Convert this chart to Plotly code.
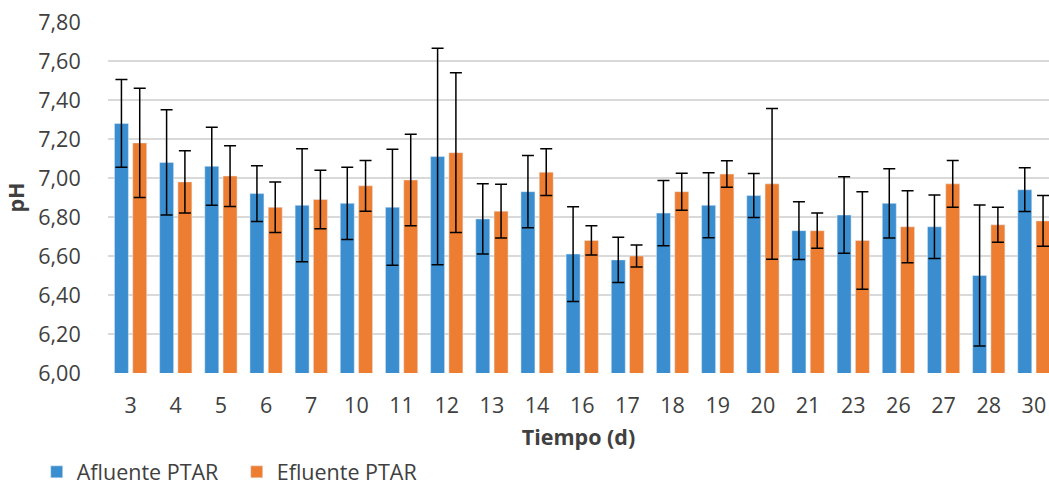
import plotly.graph_objects as go

dias = ["3", "4", "5", "6", "7", "10", "11", "12", "13", "14", "16", "17",
        "18", "19", "20", "21", "23", "26", "27", "28", "30"]

afluente = [7.28, 7.08, 7.06, 6.92, 6.86, 6.87, 6.85, 7.11, 6.79, 6.93, 6.61, 6.58,
            6.82, 6.86, 6.91, 6.73, 6.81, 6.87, 6.75, 6.50, 6.94]
afluente_err = [0.225, 0.27, 0.20, 0.143, 0.29, 0.185, 0.297, 0.555, 0.18, 0.185, 0.243, 0.116,
                0.167, 0.167, 0.113, 0.148, 0.196, 0.178, 0.163, 0.362, 0.112]

efluente = [7.18, 6.98, 7.01, 6.85, 6.89, 6.96, 6.99, 7.13, 6.83, 7.03, 6.68, 6.60,
            6.93, 7.02, 6.97, 6.73, 6.68, 6.75, 6.97, 6.76, 6.78]
efluente_err = [0.28, 0.16, 0.156, 0.13, 0.15, 0.13, 0.235, 0.41, 0.138, 0.12, 0.075, 0.057,
                0.095, 0.068, 0.387, 0.09, 0.25, 0.185, 0.12, 0.09, 0.13]

y_ticks = [6.0, 6.2, 6.4, 6.6, 6.8, 7.0, 7.2, 7.4, 7.6, 7.8]

FONT = "Open Sans"
SIZE = 21.5
TXT = "#404040"

fig = go.Figure()
fig.add_trace(go.Bar(
    x=dias, y=afluente, name="Afluente PTAR",
    marker=dict(color="#3A8ECF"),
    error_y=dict(type="data", array=afluente_err, color="#000000", thickness=1.5, width=6),
))
fig.add_trace(go.Bar(
    x=dias, y=efluente, name="Efluente PTAR",
    marker=dict(color="#ED7D31"),
    error_y=dict(type="data", array=efluente_err, color="#000000", thickness=1.5, width=6),
))

fig.update_layout(
    width=1049, height=488,
    margin=dict(l=108, r=0, t=22, b=115, autoexpand=False),
    paper_bgcolor="white", plot_bgcolor="white",
    separators=",.",
    barmode="group", bargap=0.19, bargroupgap=0.235,
    font=dict(family=FONT, size=SIZE, color=TXT),
    showlegend=True,
    legend=dict(
        orientation="h", x=0.035, y=0.033, xanchor="left", yanchor="middle",
        xref="container", yref="container",
        font=dict(family=FONT, size=SIZE, color=TXT),
        entrywidth=155, entrywidthmode="pixels",
        bgcolor="rgba(0,0,0,0)", borderwidth=0, tracegroupgap=0,
    ),
    xaxis=dict(
        type="category", range=[-0.5, 20.334],
        showgrid=False, showline=False,
        ticks="outside", ticklen=13, tickcolor="rgba(0,0,0,0)",
        tickfont=dict(family=FONT, size=SIZE, color=TXT),
        title=dict(text="<b>Tiempo (d)</b>", font=dict(family=FONT, size=SIZE, color=TXT), standoff=46),
    ),
    yaxis=dict(
        range=[5.9999, 7.8001], tickvals=y_ticks, tickformat=".2f",
        showgrid=True, gridcolor="#D9D9D9", gridwidth=1.5,
        zeroline=False, showline=False,
        ticks="outside", ticklen=22, tickcolor="rgba(0,0,0,0)",
        tickfont=dict(family=FONT, size=SIZE, color=TXT),
        title=dict(text="<b>pH</b>", font=dict(family=FONT, size=SIZE, color=TXT), standoff=7),
    ),
)

fig.write_html("out.html")
